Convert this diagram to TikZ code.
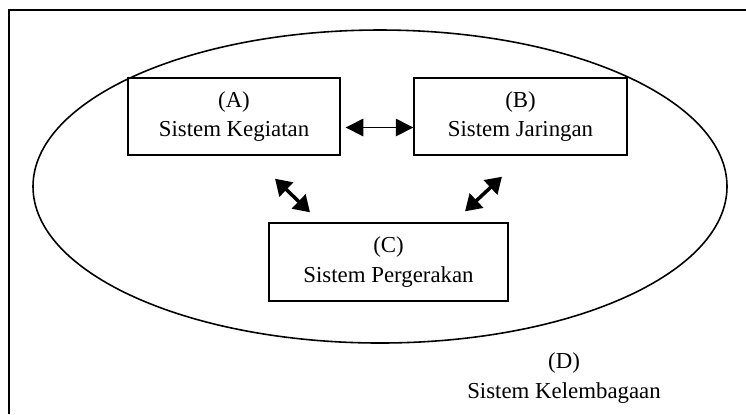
\documentclass[tikz,border=0pt]{standalone}
\usepackage{fontspec}
\setmainfont{Liberation Serif}
\usetikzlibrary{shapes,arrows.meta}
\tikzstyle{sys}=[rectangle,draw=black,line width=0.8pt,align=center,inner sep=1pt,font=\fontsize{13}{17}\selectfont]
\tikzstyle{harr}=[line width=0.8pt,{Triangle[length=10pt,width=10pt]}-{Triangle[length=10pt,width=10pt]}]
\tikzstyle{darr}=[line width=2pt,{Triangle[length=9pt,width=11pt]}-{Triangle[length=9pt,width=11pt]}]

\begin{document}
\begin{tikzpicture}[x=0.02cm,y=-0.02cm]
\useasboundingbox (0,0) rectangle (746,414);
\draw[line width=1.1pt] (9,414) -- (9,10) -- (746,10);
\draw[line width=0.9pt] (380,186.5) ellipse [x radius=347,y radius=156.5];
\node[sys,minimum width=4.24cm,minimum height=1.54cm] (A) at (234,116.5) {(A)\\Sistem Kegiatan};
\node[sys,minimum width=4.26cm,minimum height=1.54cm] (B) at (520.5,116.5) {(B)\\Sistem Jaringan};
\node[sys,minimum width=4.78cm,minimum height=1.56cm] (C) at (388.5,262) {(C)\\Sistem Pergerakan};
\node[align=center,font=\fontsize{13}{17}\selectfont] (D) at (564,378) {(D)\\Sistem Kelembagaan};
\draw[harr] ([xshift=0.1cm,yshift=-0.22cm]A.east) -- ([yshift=-0.22cm]B.west);
\draw[darr] ([shift={(41,23)}]A.south) -- ([shift={(-78.5,-10)}]C.north);
\draw[darr] ([shift={(-18.5,21)}]B.south) -- ([shift={(76.5,-11)}]C.north);
\end{tikzpicture}
\end{document}
